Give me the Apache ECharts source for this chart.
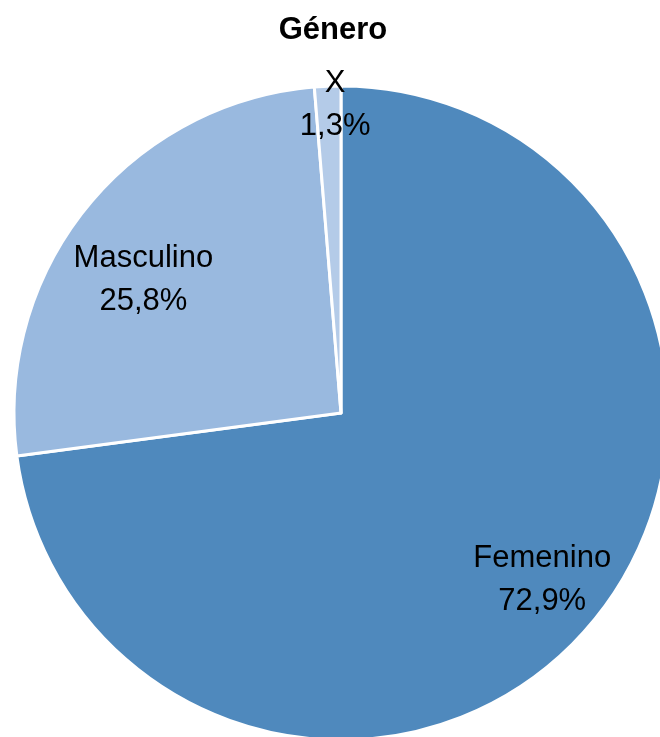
<!DOCTYPE html>
<html>
<head>
<meta charset="utf-8">
<script src="https://cdn.jsdelivr.net/npm/echarts@6/dist/echarts.min.js"></script>
<style>
  html, body { margin: 0; padding: 0; background: #fff; }
  #diagram { width: 660px; height: 737px; }
</style>
</head>
<body>
<div id="diagram"></div>
<script>
var categories = ["Femenino", "Masculino", "X"];
var values = [72.9, 25.8, 1.3];
var colors = ["#4F89BD", "#99B9DF", "#B4CBE8"];
var labelOffsets = [[76, 57], [-68, -29], [1, -142]];

var myChart = echarts.init(document.getElementById("diagram"));
var fontName = "'Liberation Sans Narrow', 'Arial Narrow', 'Liberation Sans', sans-serif";

var option = {
  title: {
    text: "Género",
    left: 328,
    top: 10,
    textAlign: "center",
    textStyle: { fontFamily: fontName, fontWeight: "bold", fontSize: 31, color: "#000" }
  },
  series: [
    {
      type: "pie",
      center: [341, 413],
      radius: [0, 327],
      startAngle: 90,
      clockwise: true,
      animation: false,
      itemStyle: { borderColor: "#fff", borderWidth: 3 },
      label: {
        position: "inside",
        fontFamily: fontName,
        fontSize: 31,
        lineHeight: 43,
        color: "#000",
        formatter: function (p) {
          return p.name + "\n" + p.value.toFixed(1).replace(".", ",") + "%";
        }
      },
      data: categories.map(function (c, i) {
        return {
          name: c,
          value: values[i],
          itemStyle: { color: colors[i] },
          label: { offset: labelOffsets[i] }
        };
      })
    }
  ]
};
myChart.setOption(option);
</script>
</body>
</html>
